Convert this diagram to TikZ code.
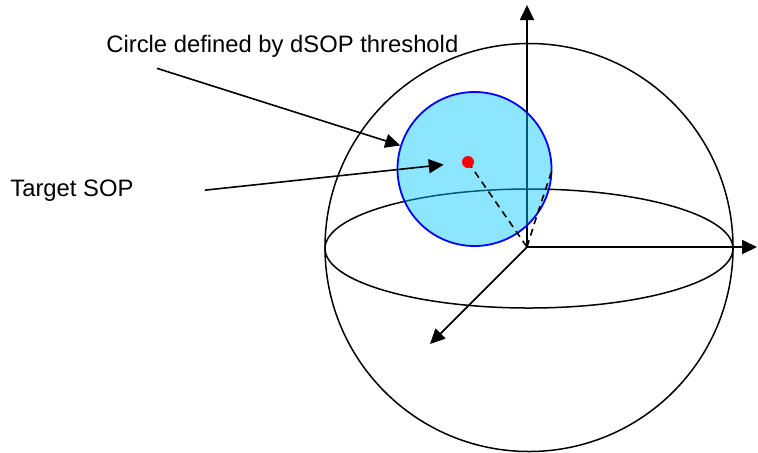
\documentclass[tikz,border=0pt]{standalone}
\usepackage{fontspec}
\setmainfont{Liberation Sans}
\usetikzlibrary{arrows.meta}
\definecolor{sopfill}{RGB}{0,200,255}

\begin{document}
\begin{tikzpicture}[
    x=0.5pt, y=-0.5pt,
    every node/.style={font=\fontsize{11.9}{14}\selectfont, inner sep=0pt},
    outline/.style={black, line width=0.75pt},
    axisline/.style={-{Triangle[length=7.5pt, width=7pt]}, black, line width=0.9pt},
    callout/.style={-{Triangle[length=7.5pt, width=7pt]}, black, line width=0.8pt},
    guide/.style={black, line width=0.8pt, dash pattern=on 3.5pt off 2.5pt}
]
\useasboundingbox (0,0) rectangle (758,452);

\def\R{204}      % sphere radius
\def\ry{59.5}    % equator half height

\coordinate (C) at (529,247.5);
\coordinate (O) at (527,247);

% sphere and equator
\draw[outline] (C) circle[radius=\R];
\draw[outline] (529,248.5) ellipse[x radius=\R, y radius=\ry];

% axes
\coordinate (zaxis) at (527,5);
\coordinate (xaxis) at (757,247);
\coordinate (yaxis) at (430,344);
\draw[axisline] (O) -- (zaxis);
\draw[axisline] (O) -- (xaxis);
\draw[axisline] (O) -- (yaxis);

% dSOP circle
\node[circle, minimum size=77pt, draw=blue, line width=0.9pt,
      fill=sopfill, fill opacity=0.45] (dsop) at (474.5,169) {};

% dashed guides
\coordinate (target pos) at (468,162);
\draw[guide] (target pos) -- (O);
\draw[guide] (O) .. controls (537,215) .. (dsop.east);

% target point
\node[circle, fill=red, minimum size=6pt] (target) at (target pos) {};

% labels
\node[anchor=base west] (lblcircle) at (106,52) {Circle defined by dSOP threshold};
\node[anchor=base west] (lbltarget) at (10,196) {Target SOP};

\draw[callout] ([shift={(25.5pt,-5.5pt)}]lblcircle.south west) -- (dsop);
\draw[callout, shorten >=9pt] ([xshift=35.5pt]lbltarget.east) -- (target);

\end{tikzpicture}
\end{document}
